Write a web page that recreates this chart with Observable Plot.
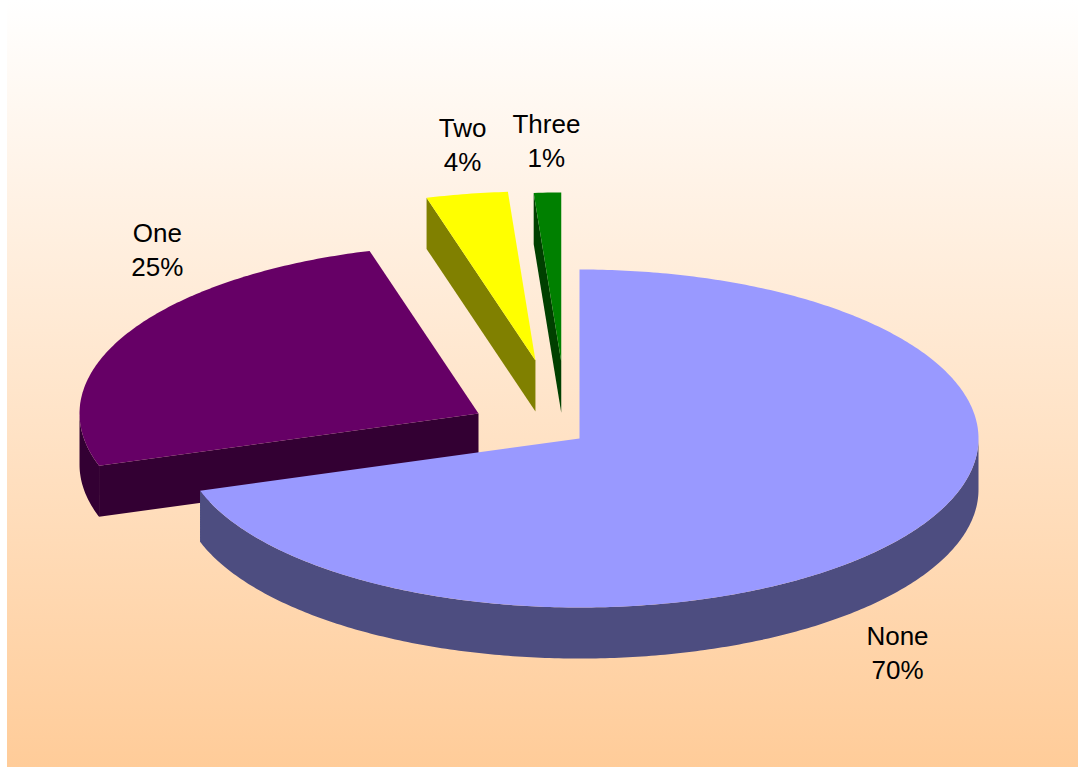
<!DOCTYPE html>
<html>
<head>
<meta charset="utf-8">
<script src="https://cdn.jsdelivr.net/npm/d3@7"></script>
<script src="https://cdn.jsdelivr.net/npm/@observablehq/plot@0.6"></script>
<style>
html,body{margin:0;padding:0;background:#fff;overflow:hidden}
svg{display:block}
</style>
</head>
<body>
<script>
const categories = ["None", "One", "Two", "Three"];
const shares = [70, 25.6, 3.3, 1.1];
const percentLabels = ["70%", "25%", "4%", "1%"];
const topColors = ["#9999ff", "#660066", "#ffff00", "#008000"];
const wallColors = ["#4d4d80", "#330033", "#808000", "#004000"];

// Layout, in pie units (1 = one radius along each axis of the tilted disc)
const explodeX = [0, -0.2531, -0.1104, -0.0458];
const explodeY = [0, 0.1479, 0.4620, 0.4555];
const labelX = [0.797, -1.058, -0.293, -0.083];
const labelY = [-1.260, 1.128, 1.746, 1.769];
const depth = 0.302;

const rad = d => d * Math.PI / 180;
const arc = (a0, a1, ox, oy, dz = 0) => {
  const n = Math.max(2, Math.ceil(Math.abs(a1 - a0) * 1.5));
  return d3.range(n + 1).map(i => {
    const a = rad(a0 + (a1 - a0) * i / n);
    return [ox + Math.sin(a), oy + Math.cos(a) - dz];
  });
};

const total = d3.sum(shares);
let cum = 0;
const slices = categories.map((name, i) => {
  const a0 = cum / total * 360;
  cum += shares[i];
  return {name, i, a0, a1: cum / total * 360, ox: explodeX[i], oy: explodeY[i]};
});

const pieces = [];
const addPiece = (id, color, pts) => pts.forEach(([x, y]) => pieces.push({id, color, x, y}));

// back-to-front: small exploded slices first, large slice last
[3, 2, 1, 0].forEach(i => {
  const s = slices[i];
  const {a0, a1, ox, oy} = s;
  // cut wall running from the centre to the starting edge
  if (i > 0) {
    const [p] = arc(a0, a0, ox, oy);
    addPiece(s.name + "-cut", wallColors[i], [
      [ox, oy], p, [p[0], p[1] - depth], [ox, oy - depth]
    ]);
  }
  // outer rim wall, the part of the rim that faces the viewer
  const r0 = a0, r1 = Math.min(a1, 270);
  if (r0 < r1 && i < 2) {
    const from = i === 0 ? 90 : r0;
    const top = arc(from, r1, ox, oy);
    const bottom = arc(from, r1, ox, oy, depth).reverse();
    addPiece(s.name + "-rim", wallColors[i], [...top, ...bottom]);
  }
  // top face
  addPiece(s.name + "-top", topColors[i], [[ox, oy], ...arc(a0, a1, ox, oy)]);
});

const labels = categories.map((name, i) => ({
  text: name + "\n" + percentLabels[i], x: labelX[i], y: labelY[i]
}));

const chart = Plot.plot({
  width: 1078,
  height: 767,
  margin: 0,
  x: {type: "linear", domain: [-1, 1], range: [180, 978], axis: null},
  y: {type: "linear", domain: [-1, 1], range: [607, 269], axis: null},
  style: {
    background: "linear-gradient(#ffffff, #ffcc99) 7px 0 / calc(100% - 7px) 100% no-repeat"
  },
  marks: [
    Plot.line(pieces, {
      x: "x", y: "y", z: "id", fill: "color",
      stroke: "none", curve: "linear-closed"
    }),
    Plot.text(labels, {
      x: "x", y: "y", text: "text",
      fontSize: 26, lineHeight: 1.3, lineAnchor: "middle",
      fontFamily: "'Liberation Sans', Arial, sans-serif", fill: "#000"
    })
  ]
});
document.body.appendChild(chart);
</script>
</body>
</html>
